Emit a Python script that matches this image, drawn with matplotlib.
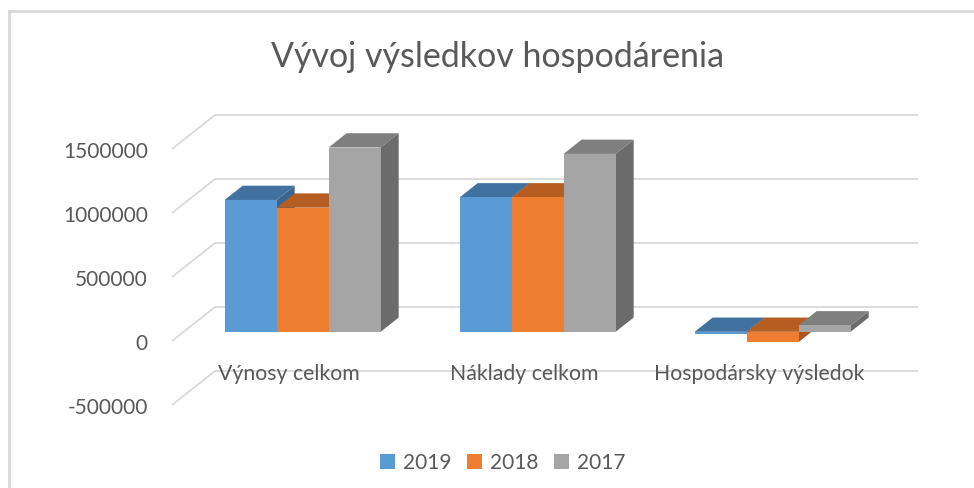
import matplotlib.pyplot as plt
from matplotlib.patches import Polygon, Patch
from matplotlib.lines import Line2D

# data
categories = ["Výnosy celkom", "Náklady celkom", "Hospodársky výsledok"]
years = ["2019", "2018", "2017"]
v2019 = [1030000, 1050000, -20000]
v2018 = [970000, 1050000, -80000]
v2017 = [1440000, 1390000, 50000]
ticks = [-500000, 0, 500000, 1000000, 1500000]
series = [v2019, v2018, v2017]

front = ["#5B9BD5", "#ED7D31", "#A5A5A5"]
top = ["#41729F", "#B65D22", "#7F7F7F"]
side = ["#3A6690", "#A85620", "#6B6B6B"]

plt.rcParams['font.family'] = ['Lato', 'DejaVu Sans']
txt = "#595959"

fig = plt.figure(figsize=(9.74, 4.88), dpi=100)
W, H = 974, 488
# axes spans pixel x 172..918, y 95..420
ax = fig.add_axes([172 / W, (H - 420) / H, 746 / W, 325 / H])
xpx = 235.0  # px per category
ypx = 128e-6  # px per value unit
c_left = (172 - 291) / xpx
c_right = (918 - 291) / xpx
ax.set_xlim(c_left, c_right)
ax.set_ylim((341 - 420) / ypx, (341 - 95) / ypx)
ax.axis("off")

dx = 43 / xpx  # full depth in category units
dy = 34 / ypx  # full depth in value units
grid = "#D9D9D9"

for t in ticks:
    ax.plot([c_left, c_left + dx, c_right], [t, t + dy, t + dy],
            color=grid, lw=1.3, zorder=1, solid_capstyle="butt")
    ax.text(c_left - 24 / xpx, t - 3 / ypx, f"{t}", ha="right", va="center",
            fontsize=15, color=txt)

bw = 52 / xpx
d0, d1 = 0.27, 0.69
for i, cat in enumerate(categories):
    x0 = i - 1.5 * bw
    for j, vals in enumerate(series):
        v = vals[i]
        xa = x0 + j * bw + d0 * dx
        xb = xa + bw
        ya = d0 * dy
        ex = (d1 - d0) * dx
        ey = (d1 - d0) * dy
        lo, hi = min(0, v) + ya, max(0, v) + ya
        z = 3 + i * 3 + j
        ax.add_patch(Polygon([(xb, lo), (xb + ex, lo + ey), (xb + ex, hi + ey), (xb, hi)],
                             closed=True, fc=side[j], ec="none", zorder=z))
        ax.add_patch(Polygon([(xa, hi), (xa + ex, hi + ey), (xb + ex, hi + ey), (xb, hi)],
                             closed=True, fc=top[j], ec="none", zorder=z))
        ax.add_patch(Polygon([(xa, lo), (xb, lo), (xb, hi), (xa, hi)],
                             closed=True, fc=front[j], ec="none", zorder=z))
    ax.text(i - 2 / xpx, ticks[0] + dy - 3 / ypx, cat, ha="center", va="center",
            fontsize=15.3, color=txt, zorder=20)

fig.text(498 / W, 1 - 57 / H, "Vývoj výsledkov hospodárenia", ha="center",
         va="center", fontsize=24.5, color=txt)

handles = [Patch(fc=front[j], ec="none") for j in range(3)]
leg = fig.legend(handles, years, loc="center", bbox_to_anchor=(503 / W, 1 - 463 / H),
                 ncol=3, frameon=False, fontsize=15, handlelength=0.7,
                 handleheight=0.7, handletextpad=0.4, columnspacing=0.75)
for t in leg.get_texts():
    t.set_color(txt)

# chart border (only left and top edges visible)
fig.add_artist(Line2D([9 / W, 9 / W], [0, 1 - 11 / H], transform=fig.transFigure,
                      color=grid, lw=2))
fig.add_artist(Line2D([9 / W, 1], [1 - 11 / H, 1 - 11 / H], transform=fig.transFigure,
                      color=grid, lw=2))

fig.savefig("out.png", dpi=100)
